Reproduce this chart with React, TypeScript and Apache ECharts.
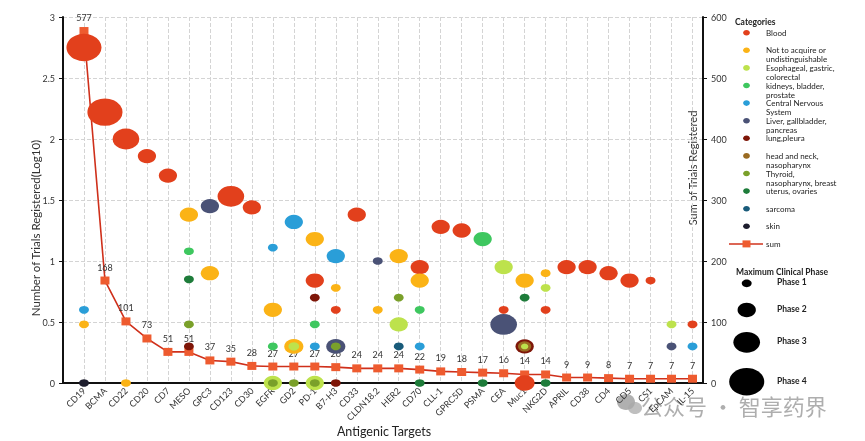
import React, { useEffect, useRef } from "react";
import * as echarts from "echarts";

const targets = ["CD19","BCMA","CD22","CD20","CD7","MESO","GPC3","CD123","CD30","EGFR","GD2","PD-1","B7-H3","CD33","CLDN18.2","HER2","CD70","CLL-1","GPRC5D","PSMA","CEA","Muc1","NKG2D","APRIL","CD38","CD4","CD5","CS1","EpCAM","IL-15"];
const sumTrials = [577,168,101,73,51,51,37,35,28,27,27,27,26,24,24,24,22,19,18,17,16,14,14,9,9,8,7,7,7,7];
const leftTicks = [0, 3, 0.5];
const rightTicks = [0, 600, 100];

// [target, log10(trials), max clinical phase]
const blood: [string, number, number][] = [["CD19",2.75,4],["BCMA",2.22,4],["CD22",2.0,3],["CD20",1.86,2],["CD7",1.70,2],["CD123",1.53,3],["CD30",1.44,2],["PD-1",0.84,2],["B7-H3",0.60,1],["CD33",1.38,2],["CD70",0.95,2],["CLL-1",1.28,2],["GPRC5D",1.25,2],["CEA",0.60,1],["Muc1",0,2.2],["NKG2D",0.60,1],["APRIL",0.95,2],["CD38",0.95,2],["CD4",0.90,2],["CD5",0.84,2],["CS1",0.84,1],["IL-15",0.48,1]];
const notAcquire: [string, number, number][] = [["CD19",0.48,1],["CD22",0,1],["MESO",1.38,2],["GPC3",0.90,2],["EGFR",0.60,2],["GD2",0.30,2.1],["PD-1",1.18,2],["B7-H3",0.78,1],["CLDN18.2",0.60,1],["HER2",1.04,2],["CD70",0.84,2],["Muc1",0.84,2],["NKG2D",0.90,1]];
const kidneys: [string, number, number][] = [["MESO",1.08,1],["EGFR",0.30,1],["PD-1",0.48,1],["CD70",0.60,1],["PSMA",1.18,2]];
const cns: [string, number, number][] = [["CD19",0.60,1],["EGFR",1.11,1],["GD2",1.32,2],["PD-1",0.30,1],["B7-H3",1.04,2],["CD70",0.30,1],["IL-15",0.30,1]];
const liver: [string, number, number][] = [["GPC3",1.45,2],["B7-H3",0.30,2.1],["CLDN18.2",1.0,1],["CEA",0.48,3],["EpCAM",0.30,1]];
const lung: [string, number, number][] = [["MESO",0.30,1],["PD-1",0.70,1],["B7-H3",0,1],["Muc1",0.30,2]];
const headNeck: [string, number, number][] = [["Muc1",0.30,1.4]];
const esophageal: [string, number, number][] = [["EGFR",0,2],["GD2",0.30,1.1],["PD-1",0,2],["HER2",0.48,2],["CEA",0.95,2],["Muc1",0.30,0.7],["NKG2D",0.78,1],["EpCAM",0.48,1]];
const thyroid: [string, number, number][] = [["MESO",0.48,1],["EGFR",0,1],["GD2",0,1],["PD-1",0,1],["B7-H3",0.30,1],["HER2",0.70,1]];
const uterus: [string, number, number][] = [["MESO",0.85,1],["CD70",0,1],["PSMA",0,1],["Muc1",0.70,1],["NKG2D",0,1]];
const sarcoma: [string, number, number][] = [["HER2",0.30,1]];
const skin: [string, number, number][] = [["CD19",0,1]];

const categoryNames = ["Blood","Not to acquire or\nundistinguishable","Esophageal, gastric,\ncolorectal","kidneys, bladder,\nprostate","Central Nervous\nSystem","Liver, gallbladder,\npancreas","lung,pleura","head and neck,\nnasopharynx","Thyroid,\nnasopharynx, breast","uterus, ovaries","sarcoma","skin"];
const categoryColors = ["#E2401C","#FBB316","#BDE24C","#3EC75F","#2A9ED8","#4A5276","#7E1608","#9A6B22","#7AA02A","#1E7C3A","#195B7A","#1E1E2E"];
const categoryData = [blood, notAcquire, esophageal, kidneys, cns, liver, lung, headNeck, thyroid, uterus, sarcoma, skin];
// drawing order so inner rings sit on top
const drawOrder = [0, 1, 3, 4, 5, 6, 7, 2, 8, 9, 10, 11];
const phases = [1, 2, 3, 4];

const FONT = "Lato, 'Open Sans', sans-serif";
const sizeOf = (p: number) => {
  const w = 1.5 + 8.4 * p;
  return [w, w * 0.78];
};

export default function App() {
  const ref = useRef<HTMLDivElement>(null);
  useEffect(() => {
    if (!ref.current) return;
    const chart = echarts.init(ref.current, null, { renderer: "svg" });

    const scatterSeries = drawOrder.map((ci) => ({
      type: "scatter",
      name: categoryNames[ci],
      xAxisIndex: 0,
      yAxisIndex: 0,
      z: 3,
      data: categoryData[ci].map((d) => [targets.indexOf(d[0]) + 1, d[1], d[2]]),
      symbol: "circle",
      symbolSize: (v: number[]) => sizeOf(v[2]),
      itemStyle: { color: categoryColors[ci], opacity: 1 },
      emphasis: { disabled: true },
    }));

    const graphic: any[] = [];
    // axis names
    graphic.push({ type: "text", x: 35, y: 228, rotation: Math.PI / 2, style: { text: "Number of Trials Registered(Log10)", font: `11.5px ${FONT}`, fill: "#333", align: "center", verticalAlign: "middle" } });
    graphic.push({ type: "text", x: 692, y: 168, rotation: Math.PI / 2, style: { text: "Sum of Trials Registered", font: `11px ${FONT}`, fill: "#333", align: "center", verticalAlign: "middle" } });
    graphic.push({ type: "text", x: 384, y: 431, style: { text: "Antigenic Targets", font: `12.5px ${FONT}`, fill: "#222", align: "center", verticalAlign: "middle" } });
    // categories legend
    graphic.push({ type: "text", x: 735, y: 21.5, style: { text: "Categories", font: `bold 8.5px ${FONT}`, fill: "#222", verticalAlign: "middle" } });
    categoryNames.forEach((n, i) => {
      const y = 32.7 + i * 17.6;
      graphic.push({ type: "ellipse", shape: { cx: 746.5, cy: y, rx: 3.4, ry: 2.8 }, style: { fill: categoryColors[i] } });
      graphic.push({ type: "text", x: 766, y: y - 4.5, style: { text: n, font: `8px ${FONT}`, fill: "#222", lineHeight: 9, verticalAlign: "top" } });
    });
    const sy = 32.7 + 12 * 17.6;
    graphic.push({ type: "line", shape: { x1: 729, y1: sy, x2: 763, y2: sy }, style: { stroke: "#D0331C", lineWidth: 1.5 } });
    graphic.push({ type: "rect", shape: { x: 742.5, y: sy - 3.5, width: 8, height: 7 }, style: { fill: "#EE5B2F" } });
    graphic.push({ type: "text", x: 766, y: sy, style: { text: "sum", font: `8px ${FONT}`, fill: "#222", verticalAlign: "middle" } });
    // phase legend
    graphic.push({ type: "text", x: 736, y: 271.7, style: { text: "Maximum Clinical Phase", font: `bold 8.5px ${FONT}`, fill: "#222", verticalAlign: "middle" } });
    const phaseY = [283.3, 310, 342.3, 381.7];
    phases.forEach((p, i) => {
      const [w, h] = sizeOf(p);
      graphic.push({ type: "ellipse", shape: { cx: 746.7, cy: phaseY[i], rx: w / 2, ry: h / 2 }, style: { fill: "#000" } });
      graphic.push({ type: "text", x: 777, y: phaseY[i] - 1, style: { text: "Phase " + p, font: `bold 8.5px ${FONT}`, fill: "#222", verticalAlign: "middle" } });
    });
    // watermark
    graphic.push({ type: "ellipse", shape: { cx: 626, cy: 402, rx: 9, ry: 8 }, style: { fill: "rgba(150,150,150,0.75)" } });
    graphic.push({ type: "ellipse", shape: { cx: 635, cy: 408, rx: 7, ry: 6 }, style: { fill: "rgba(170,170,170,0.75)" } });
    graphic.push({ type: "text", x: 641, y: 405, style: { text: "公众号 · 智享药界", font: `22px 'Noto Sans CJK SC'`, fill: "rgba(140,140,140,0.7)", verticalAlign: "middle" } });

    chart.setOption({
      animation: false,
      textStyle: { fontFamily: FONT },
      grid: { left: 63, right: 162, top: 17, bottom: 58, containLabel: false, outerBoundsMode: "none" },
      xAxis: {
        type: "value",
        min: 0,
        max: 30.5,
        interval: 1,
        axisLine: { show: true, lineStyle: { color: "#111", width: 2 } },
        axisTick: { show: false },
        axisLabel: {
          rotate: 45,
          fontSize: 9,
          color: "#333",
          margin: 6,
          formatter: (v: number) => (Number.isInteger(v) && v >= 1 ? targets[v - 1] : ""),
        },
        splitLine: { show: true, lineStyle: { color: "#d4d4d4", type: "dashed", width: 1 } },
      },
      yAxis: [
        {
          type: "value",
          min: leftTicks[0],
          max: leftTicks[1],
          interval: leftTicks[2],
          axisLine: { show: true, lineStyle: { color: "#111", width: 2 } },
          axisTick: { show: true, length: 4, lineStyle: { color: "#111" } },
          axisLabel: { fontSize: 9, color: "#333", margin: 8 },
          splitLine: { show: true, lineStyle: { color: "#d4d4d4", type: "dashed", width: 1 } },
        },
        {
          type: "value",
          position: "right",
          min: rightTicks[0],
          max: rightTicks[1],
          interval: rightTicks[2],
          axisLine: { show: true, lineStyle: { color: "#111", width: 2 } },
          axisTick: { show: true, length: 4, lineStyle: { color: "#111" } },
          axisLabel: { fontSize: 9, color: "#333", margin: 8 },
          splitLine: { show: false },
        },
      ],
      series: [
        {
          type: "line",
          name: "sum",
          xAxisIndex: 0,
          yAxisIndex: 1,
          z: 2,
          data: sumTrials.map((v, i) => [i + 1, v]),
          symbol: "rect",
          symbolSize: [9, 8],
          lineStyle: { color: "#CF301B", width: 1.6 },
          itemStyle: { color: "#EE5B2F" },
          label: { show: true, position: "top", distance: 5, fontSize: 9, color: "#333", formatter: (p: any) => String(p.value[1]) },
          emphasis: { disabled: true },
        },
        ...scatterSeries,
      ],
      graphic,
    });
    return () => chart.dispose();
  }, []);
  return <div ref={ref} style={{ position: "fixed", left: 0, top: 0, width: 865, height: 441 }} />;
}
